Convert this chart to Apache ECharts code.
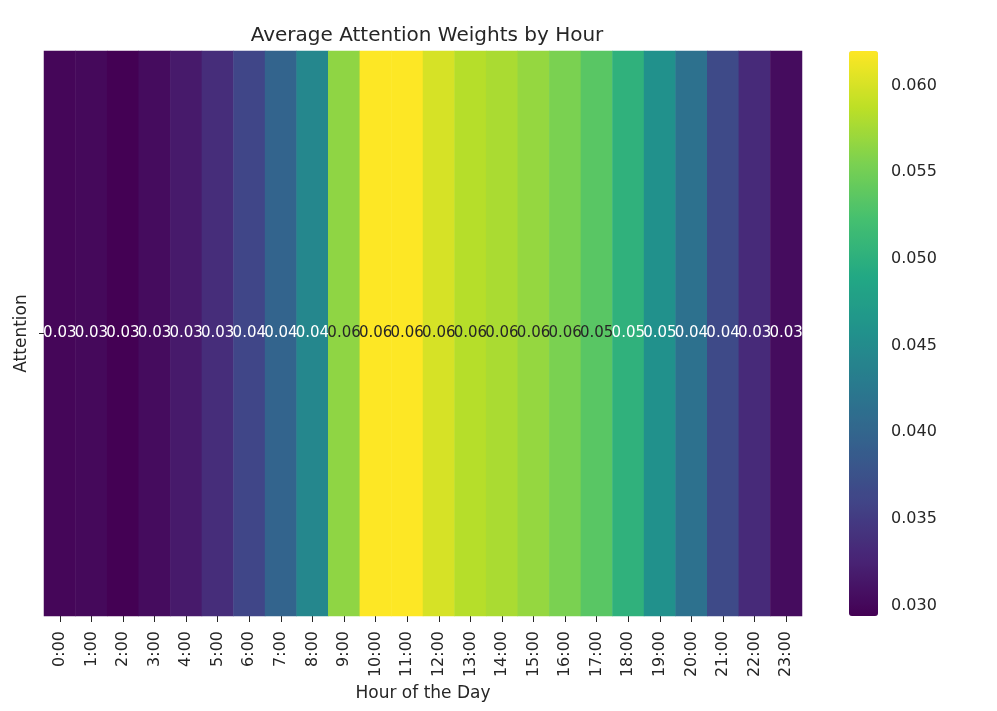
<!DOCTYPE html>
<html>
<head>
<meta charset="utf-8">
<script src="https://cdn.jsdelivr.net/npm/echarts@6/dist/echarts.min.js"></script>
<style>html,body{margin:0;padding:0;background:#fff;}#c{width:997px;height:711px;}</style>
</head>
<body>
<div id="c"></div>
<script>
const hours = ['0:00','1:00','2:00','3:00','4:00','5:00','6:00','7:00','8:00','9:00','10:00','11:00','12:00','13:00','14:00','15:00','16:00','17:00','18:00','19:00','20:00','21:00','22:00','23:00'];
const rows = [''];
const attention = [0.0299,0.0301,0.0294,0.0304,0.0317,0.0336,0.0362,0.0398,0.0444,0.0565,0.0620,0.0620,0.0600,0.0584,0.0578,0.0568,0.0555,0.0535,0.0503,0.0457,0.0415,0.0366,0.0333,0.0304];
const colorTicks = [0.030,0.035,0.040,0.045,0.050,0.055,0.060];
const vmin = 0.0294, vmax = 0.0620;

const viridis = ['#440154','#482475','#414487','#355f8d','#2a788e','#21918c','#22a884','#44bf70','#7ad151','#bddf26','#fde725'];
const font = 'DejaVu Sans';

const heatData = attention.map((v, i) => ({
  value: [i, 0, v],
  label: { color: v > 0.052 ? '#262626' : '#ffffff' }
}));

const chart = echarts.init(document.getElementById('c'), null, {renderer: 'canvas'});
chart.setOption({
  animation: false,
  backgroundColor: '#fff',
  textStyle: { fontFamily: font },
  title: {
    text: 'Average Attention Weights by Hour',
    left: 422, top: 21, textAlign: 'center',
    textStyle: { fontFamily: font, fontSize: 20, fontWeight: 'normal', color: '#262626' }
  },
  grid: [
    { left: 44, top: 51, width: 758, height: 565, containLabel: false },
    { left: 849, top: 51, width: 29, height: 565, containLabel: false }
  ],
  xAxis: [
    {
      type: 'category', data: hours, gridIndex: 0,
      name: 'Hour of the Day', nameLocation: 'middle', nameGap: 66,
      nameTextStyle: { fontFamily: font, fontSize: 17, color: '#262626' },
      axisLine: { show: false },
      axisTick: { show: true, alignWithLabel: true, length: 6, lineStyle: { color: '#262626' } },
      axisLabel: { rotate: 90, fontFamily: font, fontSize: 16, color: '#262626', margin: 15, interval: 0 },
      splitLine: { show: false }
    },
    {
      type: 'value', gridIndex: 1, show: false, min: 0, max: 1
    }
  ],
  yAxis: [
    {
      type: 'category', data: rows, gridIndex: 0,
      name: 'Attention', nameLocation: 'middle', nameGap: 14, nameRotate: 90,
      nameMoveOverlap: false,
      nameTextStyle: { fontFamily: font, fontSize: 17, color: '#262626' },
      axisLine: { show: false },
      axisTick: { show: true, alignWithLabel: true, length: 5, lineStyle: { color: '#262626' } },
      axisLabel: { show: false },
      splitLine: { show: false }
    },
    {
      type: 'value', gridIndex: 1, position: 'right', min: vmin, max: vmax,
      axisLine: { show: false },
      axisTick: { show: true, length: 5, customValues: colorTicks, lineStyle: { color: '#262626' } },
      axisLabel: { show: true, customValues: colorTicks, fontFamily: font, fontSize: 16, color: '#262626', margin: 13,
        formatter: v => v.toFixed(3) },
      splitLine: { show: false }
    }
  ],
  visualMap: {
    type: 'continuous', min: vmin, max: vmax, seriesIndex: 0,
    calculable: false, realtime: false,
    orient: 'vertical', left: 849, top: 51, itemWidth: 29, itemHeight: 565,
    padding: 0, text: null, showLabel: false,
    inRange: { color: viridis }
  },
  series: [{
    type: 'heatmap', xAxisIndex: 0, yAxisIndex: 0,
    data: heatData,
    label: {
      show: true, fontFamily: font, fontSize: 15,
      formatter: p => p.value[2].toFixed(2)
    },
    itemStyle: { borderWidth: 0 },
    emphasis: { disabled: true }
  }]
});
</script>
</body>
</html>
